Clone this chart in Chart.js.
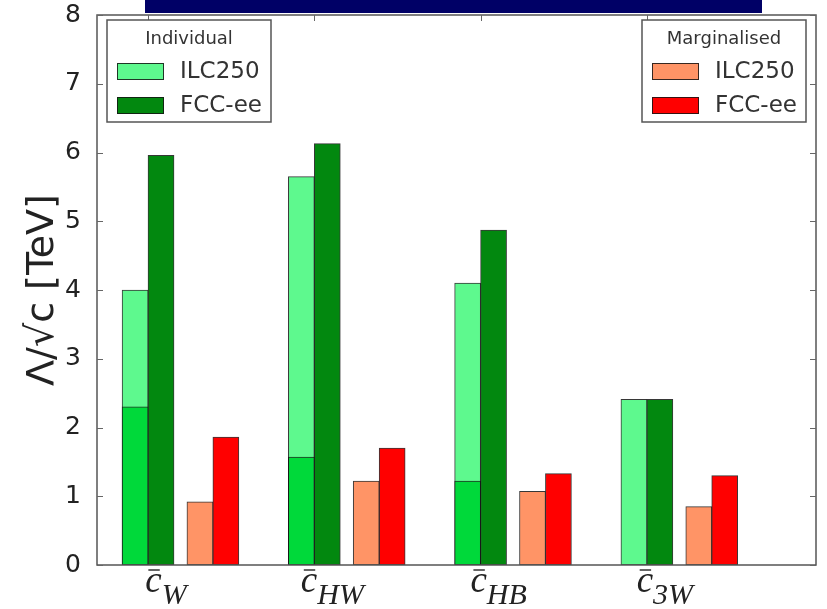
<!DOCTYPE html>
<html lang="en">
<head>
  <meta charset="UTF-8" />
  <title>EFT reach</title>
  <style>
    html, body { margin: 0; padding: 0; background: #fff; }
    .wrap { position: relative; width: 827px; height: 609px; }
    .banner { position: absolute; left: 145px; top: 0; width: 617px; height: 13px; background: #000066; }
  </style>
  <script src="https://cdn.jsdelivr.net/npm/chart.js"></script>
</head>
<body>
  <div class="wrap">
    <canvas id="chart" width="827" height="609"></canvas>
    <div class="banner"></div>
  </div>

  <script>
    // operator subscripts (labels are c-bar_X)
    const categories = ['W', 'HW', 'HB', '3W'];
    const yTicks = [0, 1, 2, 3, 4, 5, 6, 7, 8];

    // Individual fits
    const indivILC = [4.00, 5.65, 4.10, 2.41];
    const indivILCLower = [2.30, 1.57, 1.22, null];   // brighter lower part of the ILC250 bar
    const indivFCC = [5.96, 6.13, 4.87, 2.41];
    // Marginalised fits
    const margILC = [0.92, 1.22, 1.07, 0.85];
    const margFCC = [1.86, 1.70, 1.33, 1.30];

    // bar layout (in units of category spacing)
    const barW = 0.156;
    const slot = { indivILC: -0.5, indivFCC: 0.5, margILC: 2, margFCC: 3 };

    const pts = (vals, s) => vals.map((v, i) => ({ x: i + s * barW, y: v }));
    const edge = 'rgba(20,20,20,0.85)';

    function bar(data, color, order) {
      return {
        data: data, backgroundColor: color, borderColor: edge, borderWidth: 1,
        borderSkipped: false, barThickness: 26, grouped: false, order: order
      };
    }

    const frame = {
      id: 'frame',
      afterDraw(chart) {
        const c = chart.ctx, a = chart.chartArea;
        const ys = chart.scales.y, xs = chart.scales.x;
        c.save();
        c.strokeStyle = '#555';
        c.lineWidth = 1.5;
        c.strokeRect(a.left, a.top, a.right - a.left, a.bottom - a.top);
        // inward ticks
        c.lineWidth = 1;
        c.strokeStyle = '#666';
        c.beginPath();
        yTicks.forEach(v => {
          const py = Math.round(ys.getPixelForValue(v)) + 0.5;
          c.moveTo(a.left, py); c.lineTo(a.left + 6, py);
          c.moveTo(a.right, py); c.lineTo(a.right - 6, py);
        });
        categories.forEach((_, i) => {
          const px = Math.round(xs.getPixelForValue(i)) + 0.5;
          c.moveTo(px, a.top); c.lineTo(px, a.top + 6);
        });
        c.stroke();

        // x labels: c-bar with italic subscript
        c.fillStyle = '#222';
        c.strokeStyle = '#333';
        c.textBaseline = 'alphabetic';
        c.textAlign = 'left';
        categories.forEach((sub, i) => {
          const cx = xs.getPixelForValue(i) + 18;
          c.font = 'italic 37px "Liberation Serif"';
          const wc = c.measureText('c').width;
          c.font = 'italic 30px "Liberation Serif"';
          const ws = c.measureText(sub).width;
          const x0 = cx - (wc + ws) / 2;
          const base = a.bottom + 27;
          c.font = 'italic 37px "Liberation Serif"';
          c.fillText('c', x0, base);
          c.lineWidth = 1.5;
          c.beginPath();
          c.moveTo(x0 + 3, base - 22); c.lineTo(x0 + wc - 2, base - 22);
          c.stroke();
          c.font = 'italic 30px "Liberation Serif"';
          c.fillText(sub, x0 + wc, base + 12);
        });

        // two legend boxes
        const legends = [
          { title: 'Individual', left: a.left + 10, items: [['ILC250', '#5ef98e'], ['FCC-ee', '#02880f']] },
          { title: 'Marginalised', left: a.right - 174, items: [['ILC250', '#ff9466'], ['FCC-ee', '#ff0000']] }
        ];
        legends.forEach(lg => {
          const top = a.top + 5, w = 164, h = 102;
          c.fillStyle = '#fff';
          c.fillRect(lg.left, top, w, h);
          c.strokeStyle = '#555';
          c.lineWidth = 1.5;
          c.strokeRect(lg.left, top, w, h);
          c.fillStyle = '#333';
          c.font = '18px "DejaVu Sans"';
          c.textAlign = 'center';
          c.textBaseline = 'middle';
          c.fillText(lg.title, lg.left + w / 2, top + 19);
          lg.items.forEach((it, k) => {
            const sy = top + 43 + k * 34;
            c.fillStyle = it[1];
            c.fillRect(lg.left + 10, sy, 47, 17);
            c.strokeStyle = edge;
            c.lineWidth = 1;
            c.strokeRect(lg.left + 10.5, sy + 0.5, 46, 16);
            c.fillStyle = '#333';
            c.font = '23px "DejaVu Sans"';
            c.textAlign = 'left';
            c.fillText(it[0], lg.left + 73, sy + 9);
          });
        });
        c.restore();
      }
    };

    new Chart(document.getElementById('chart'), {
      type: 'bar',
      data: {
        datasets: [
          bar(pts(indivILCLower, slot.indivILC), '#00d93a', 0),
          bar(pts(indivILC, slot.indivILC), '#5ef98e', 1),
          bar(pts(indivFCC, slot.indivFCC), '#02880f', 1),
          bar(pts(margILC, slot.margILC), '#ff9466', 1),
          bar(pts(margFCC, slot.margFCC), '#ff0000', 1)
        ]
      },
      options: {
        responsive: false,
        animation: false,
        layout: { padding: { top: 15, right: 11, left: 0, bottom: 0 } },
        plugins: { legend: { display: false }, tooltip: { enabled: false } },
        scales: {
          x: {
            type: 'linear', min: -0.307, max: 4.017, offset: false,
            grid: { display: false }, border: { display: false },
            ticks: { display: false },
            afterBuildTicks: s => { s.ticks = categories.map((_, i) => ({ value: i })); },
            afterFit: s => { s.height = 44; s.paddingLeft = 0; s.paddingRight = 0; }
          },
          y: {
            min: 0, max: 8,
            grid: { display: false }, border: { display: false },
            ticks: { stepSize: 1, color: '#222', padding: 8, font: { family: 'DejaVu Sans', size: 25 } },
            title: {
              display: true, text: 'Λ/√c [TeV]', color: '#222',
              font: { family: 'DejaVu Sans', size: 38, lineHeight: 1 },
              padding: { top: 24, bottom: 0 }
            },
            afterFit: s => { s.width = 97; s.paddingTop = 0; s.paddingBottom = 0; }
          }
        }
      },
      plugins: [frame]
    });
  </script>
</body>
</html>
